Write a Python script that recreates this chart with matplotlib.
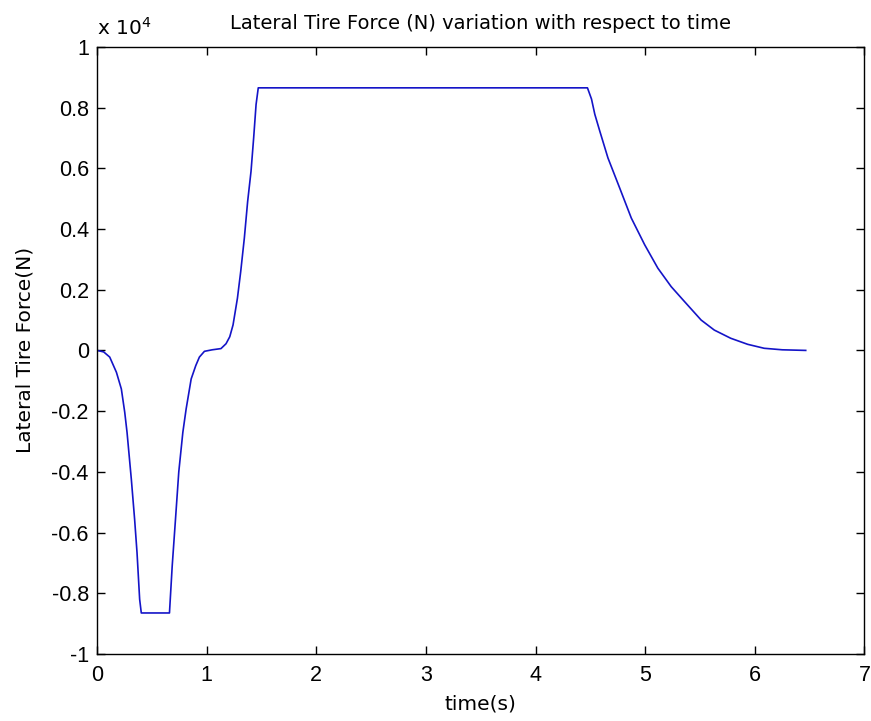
import matplotlib
matplotlib.use('Agg')
import matplotlib.pyplot as plt

# time (s) and lateral tire force (x 1e4 N)
time_s = [0.0, 0.06, 0.115, 0.176, 0.221, 0.252, 0.273, 0.312, 0.342, 0.364, 0.388, 0.403,
          0.66, 0.685, 0.715, 0.745, 0.782, 0.812, 0.858, 0.90, 0.933, 0.979, 1.05, 1.13,
          1.176, 1.21, 1.24, 1.28, 1.31, 1.343, 1.373, 1.404, 1.428, 1.45, 1.47,
          4.473, 4.51, 4.54, 4.585, 4.66, 4.767, 4.873, 4.995, 5.115, 5.237, 5.358,
          5.51, 5.63, 5.78, 5.935, 6.085, 6.25, 6.464]
force_1e4 = [0.0, -0.005, -0.022, -0.072, -0.127, -0.204, -0.27, -0.424, -0.556, -0.666, -0.82, -0.865,
             -0.865, -0.71, -0.556, -0.40, -0.27, -0.193, -0.094, -0.05, -0.022, -0.003, 0.002, 0.006,
             0.022, 0.045, 0.084, 0.172, 0.26, 0.37, 0.49, 0.59, 0.70, 0.81, 0.865,
             0.865, 0.828, 0.778, 0.723, 0.634, 0.535, 0.436, 0.348, 0.271, 0.21, 0.161,
             0.10, 0.067, 0.04, 0.02, 0.007, 0.002, 0.0]

xticks = [0, 1, 2, 3, 4, 5, 6, 7]
yticks = [-1, -0.8, -0.6, -0.4, -0.2, 0, 0.2, 0.4, 0.6, 0.8, 1]
ytick_labels = ['-1', '-0.8', '-0.6', '-0.4', '-0.2', '0', '0.2', '0.4', '0.6', '0.8', '1']

plt.rcParams['font.family'] = ['DejaVu Sans']
tick_font = 'Liberation Sans'

fig = plt.figure(figsize=(8.71, 7.21), dpi=100)
ax = fig.add_axes([0.1115, 0.093, 0.881, 0.842])

ax.plot(time_s, force_1e4, color='#1414c8', lw=1.2)

ax.set_xlim(0, 7)
ax.set_ylim(-1, 1)
ax.set_xticks(xticks)
ax.set_xticklabels([str(t) for t in xticks], family=tick_font)
ax.set_yticks(yticks)
ax.set_yticklabels(ytick_labels, family=tick_font)
ax.tick_params(direction='in', length=6, width=1, top=True, right=True,
               labelsize=15.5)
ax.tick_params(axis='x', pad=8)
ax.tick_params(axis='y', pad=6)
for s in ax.spines.values():
    s.set_linewidth(1)

ax.set_xlabel('time(s)', fontsize=14.5, labelpad=6)
ax.set_ylabel('Lateral Tire Force(N)', fontsize=14.5, labelpad=12)
ax.set_title('Lateral Tire Force (N) variation with respect to time', fontsize=14, pad=13)
ax.text(0.0, 1.014, r'x 10$^{4}$', transform=ax.transAxes, fontsize=14.5,
        ha='left', va='bottom')

fig.savefig('out.png', dpi=100)
